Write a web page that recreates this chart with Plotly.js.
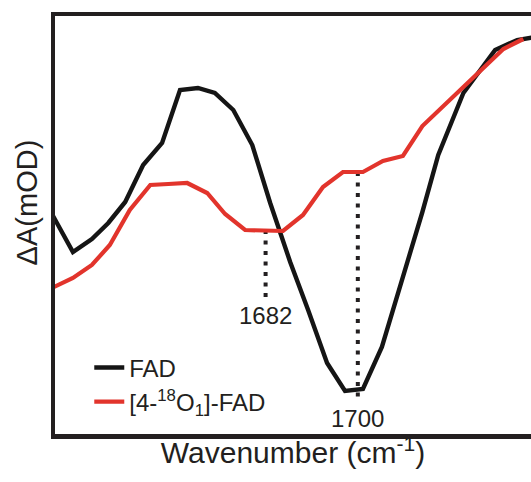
<!DOCTYPE html>
<html>
<head>
<meta charset="utf-8">
<script src="https://cdn.plot.ly/plotly-3.0.1.min.js"></script>
<style>html,body{margin:0;padding:0;background:#fff;}#chart{width:531px;height:482px;}</style>
</head>
<body>
<div id="chart"></div>
<script>
// Wavenumbers (cm^-1) and ΔA values (mOD, arbitrary scale)
const fadWn = [1640.3, 1644.4, 1648.1, 1651.3, 1654.6, 1658.1, 1661.8, 1665.3, 1668.8, 1672.1, 1675.7, 1679.4, 1682.9, 1686.8, 1690.3, 1694.0, 1697.5, 1701.0, 1704.7, 1708.8, 1712.6, 1715.7, 1720.6, 1726.8, 1731.1, 1734.6];
const fadDA = [1.72, 0.96, 1.22, 1.54, 1.96, 2.70, 3.14, 4.20, 4.24, 4.14, 3.80, 3.10, 1.94, 0.76, -0.20, -1.26, -1.82, -1.78, -0.94, 0.46, 1.76, 2.90, 4.14, 5.00, 5.20, 5.26];
const isoWn = [1640.3, 1644.4, 1648.1, 1651.6, 1655.5, 1659.5, 1663.0, 1666.7, 1670.6, 1674.1, 1678.0, 1681.9, 1685.4, 1689.3, 1693.2, 1697.1, 1701.0, 1704.9, 1708.8, 1712.6, 1716.5, 1720.4, 1724.5, 1728.4, 1732.3];
const isoDA = [0.24, 0.44, 0.70, 1.10, 1.80, 2.30, 2.32, 2.34, 2.14, 1.72, 1.40, 1.40, 1.38, 1.70, 2.26, 2.56, 2.56, 2.78, 2.88, 3.48, 3.86, 4.24, 4.64, 5.02, 5.22];
// Marked band positions
const bandWn = [1682, 1700];
const bandTop = [1.40, 2.56];
const bandBottom = [0.06, -2.04];
const bandLabelY = [-0.30, -2.36];
const bandLabels = ['1682', '1700'];
const seriesNames = ['FAD', '[4-<sup>18</sup>O<sub>1</sub>]-FAD'];

const FONT = 'Liberation Sans, Arial, Helvetica, sans-serif';
const INK = '#231f20';

const traces = [];
bandWn.forEach((w, i) => {
  traces.push({
    x: [w, w], y: [bandTop[i], bandBottom[i]], mode: 'lines', showlegend: false,
    line: {color: INK, width: 4, dash: '4px,6.5px'}, hoverinfo: 'skip'
  });
});
traces.push({x: fadWn, y: fadDA, mode: 'lines', name: seriesNames[0], line: {color: '#151515', width: 4.4}});
traces.push({x: isoWn, y: isoDA, mode: 'lines', name: seriesNames[1], line: {color: '#e2342c', width: 4.2}});

const annotations = bandWn.map((w, i) => ({
  x: w, y: bandLabelY[i], xref: 'x', yref: 'y', text: bandLabels[i], showarrow: false,
  font: {family: FONT, size: 24, color: INK}
}));
annotations.push({
  xref: 'paper', yref: 'paper', x: -0.058, y: 0.555, xanchor: 'center', yanchor: 'middle',
  text: 'ΔA(mOD)', textangle: -90,
  showarrow: false, font: {family: FONT, size: 29, color: INK}
});

const layout = {
  width: 531, height: 482,
  margin: {l: 55, r: 0, t: 16, b: 48},
  paper_bgcolor: '#fff', plot_bgcolor: '#fff',
  showlegend: true,
  legend: {
    x: 0.072, y: 0.212, xanchor: 'left', yanchor: 'top',
    bgcolor: 'rgba(0,0,0,0)', font: {family: FONT, size: 24, color: INK},
    traceorder: 'normal', tracegroupgap: 0
  },
  xaxis: {
    range: [1640.9, 1733.8], showgrid: false, zeroline: false, showticklabels: false, ticks: '',
    showline: true, linecolor: INK, linewidth: 4.5, mirror: true,
    title: {text: 'Wavenumber (cm<sup>-1</sup>)', font: {family: FONT, size: 30, color: INK}, standoff: 6}
  },
  yaxis: {
    range: [-2.68, 5.68], showgrid: false, zeroline: false, showticklabels: false, ticks: '',
    showline: true, linecolor: INK, linewidth: 4.5, mirror: false
  },
  annotations: annotations
};

Plotly.newPlot('chart', traces, layout, {displayModeBar: false, staticPlot: true});
</script>
</body>
</html>
